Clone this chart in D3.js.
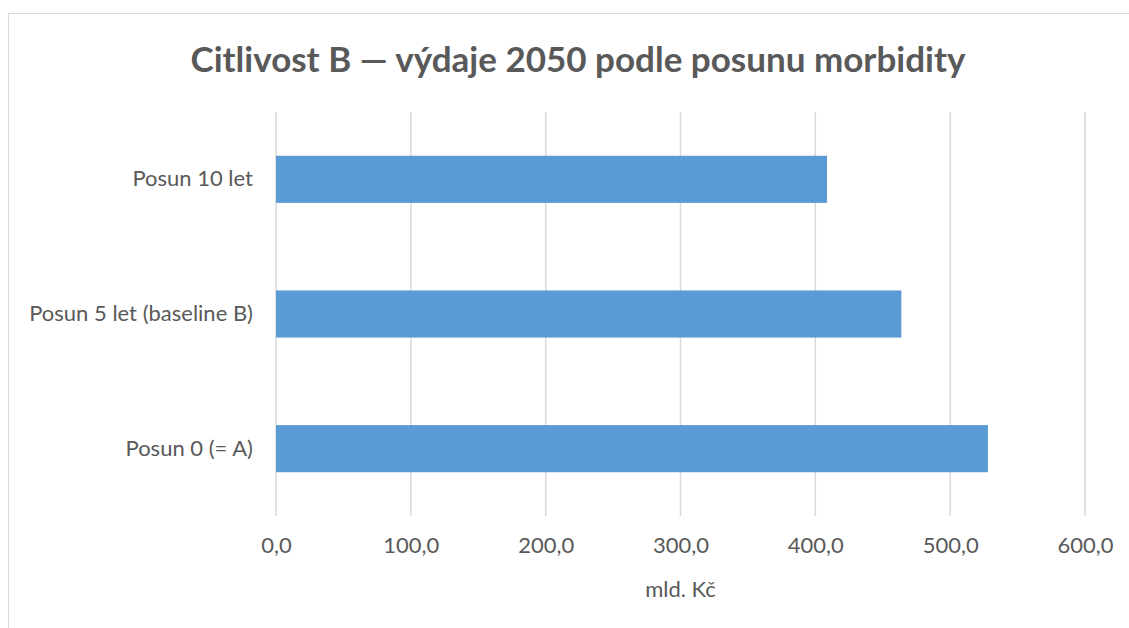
<!DOCTYPE html>
<html>
<head>
<meta charset="utf-8">
<script src="https://cdn.jsdelivr.net/npm/d3@7"></script>
<style>
  body { margin: 0; background: #fff; }
  text { font-family: Lato, "Open Sans", sans-serif; fill: #595959; }
</style>
</head>
<body>
<div id="chart"></div>
<script>
// data (bottom to top as in the picture)
const categories = ["Posun 0 (= A)", "Posun 5 let (baseline B)", "Posun 10 let"];
const values = [528.0, 463.8, 408.7];
const xTicks = [0, 100, 200, 300, 400, 500, 600];
const titleText = "Citlivost B — výdaje 2050 podle posunu morbidity";
const xTitle = "mld. Kč";

const W = 1129, H = 628;
const margin = { top: 112, right: 44, bottom: 112, left: 276 };
const width = W - margin.left - margin.right;
const height = H - margin.top - margin.bottom;

const svg = d3.select("#chart").append("svg")
  .attr("width", W)
  .attr("height", H);

// chart border
svg.append("rect")
  .attr("x", 8.5).attr("y", 13.5)
  .attr("width", W - 6).attr("height", H)
  .attr("fill", "none")
  .attr("stroke", "#d9d9d9");

svg.append("text")
  .attr("x", 578)
  .attr("y", 72)
  .attr("text-anchor", "middle")
  .style("font-size", "35px")
  .style("font-weight", "bold")
  .text(titleText);

const g = svg.append("g")
  .attr("transform", "translate(" + margin.left + "," + margin.top + ")");

const x = d3.scaleLinear().domain([0, 600]).range([0, width]);
const y = d3.scaleBand()
  .domain(categories.slice().reverse())
  .range([0, height])
  .paddingInner(0.65)
  .paddingOuter(0.325);

// gridlines
g.selectAll(".grid")
  .data(xTicks)
  .enter()
  .append("line")
  .attr("class", "grid")
  .attr("x1", d => x(d)).attr("x2", d => x(d))
  .attr("y1", 0).attr("y2", height)
  .attr("stroke", "#d9d9d9")
  .attr("stroke-width", 1.5);

g.selectAll(".bar")
  .data(categories.map((c, i) => ({ name: c, value: values[i] })))
  .enter()
  .append("rect")
  .attr("class", "bar")
  .attr("x", x(0))
  .attr("y", d => y(d.name))
  .attr("width", d => x(d.value) - x(0))
  .attr("height", y.bandwidth())
  .attr("fill", "#5b9bd5");

const fmt = d => d3.format(".1f")(d).replace(".", ",");

const xAxis = g.append("g")
  .attr("transform", "translate(0," + height + ")")
  .call(d3.axisBottom(x).tickValues(xTicks).tickFormat(fmt).tickSize(0).tickPadding(21));
xAxis.select(".domain").remove();
xAxis.selectAll("text").style("font-size", "22px").attr("fill", "#595959");

const yAxis = g.append("g")
  .call(d3.axisLeft(y).tickSize(0).tickPadding(23));
yAxis.select(".domain").remove();
yAxis.selectAll("text").style("font-size", "22px").attr("fill", "#595959");

svg.append("text")
  .attr("x", margin.left + width / 2)
  .attr("y", 597)
  .attr("text-anchor", "middle")
  .style("font-size", "22px")
  .text(xTitle);
</script>
</body>
</html>
